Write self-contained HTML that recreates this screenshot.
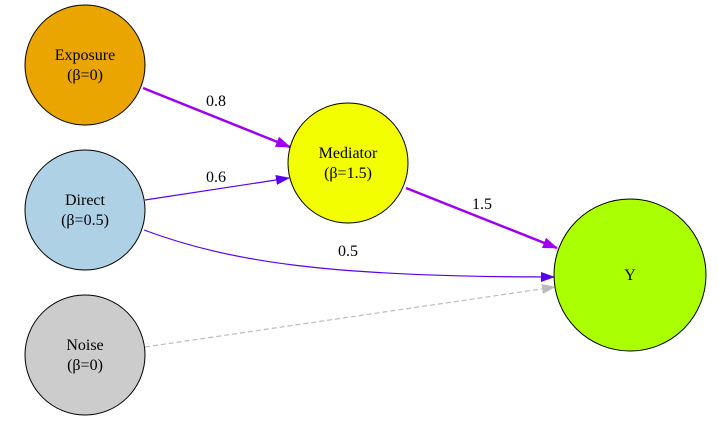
<!DOCTYPE html>
<html><head><meta charset="utf-8"><style>html,body{margin:0;padding:0;background:#fff}svg{display:block}</style></head>
<body>
<svg width="718" height="433" viewBox="0 0 718 433" xmlns="http://www.w3.org/2000/svg" font-family="Liberation Serif, serif" font-size="16">
<defs>
<marker id="ap" markerWidth="15" markerHeight="11" refX="14" refY="5.5" orient="auto" markerUnits="userSpaceOnUse"><path d="M0,0 L15,5.5 L0,11z" fill="#a000f0"/></marker>
<marker id="ab" markerWidth="14" markerHeight="10" refX="13" refY="5" orient="auto" markerUnits="userSpaceOnUse"><path d="M0,0 L14,5 L0,10z" fill="#5a00f0"/></marker>
<marker id="ag" markerWidth="14" markerHeight="10" refX="13" refY="5" orient="auto" markerUnits="userSpaceOnUse"><path d="M0,0 L14,5 L0,10z" fill="#bbb"/></marker>
</defs>
<line x1="143" y1="88" x2="290" y2="147" stroke="#a000f0" stroke-width="2.5" marker-end="url(#ap)"/>
<line x1="145" y1="200" x2="289" y2="178" stroke="#5a00f0" stroke-width="1.2" marker-end="url(#ab)"/>
<line x1="406" y1="188" x2="557" y2="248" stroke="#a000f0" stroke-width="2.5" marker-end="url(#ap)"/>
<path d="M144,230 C230,262 330,277 554,277" fill="none" stroke="#5a00f0" stroke-width="1.2" marker-end="url(#ab)"/>
<line x1="145" y1="347" x2="555" y2="287" stroke="#bbb" stroke-width="1.2" stroke-dasharray="5,3" marker-end="url(#ag)"/>
<text x="216" y="106" text-anchor="middle">0.8</text>
<text x="216" y="182" text-anchor="middle">0.6</text>
<text x="482" y="209" text-anchor="middle">1.5</text>
<text x="348" y="256" text-anchor="middle">0.5</text>
<circle cx="85" cy="65" r="60" fill="#eba500" stroke="#000"/>
<circle cx="85" cy="210" r="60" fill="#afd1e5" stroke="#000"/>
<circle cx="85" cy="355" r="60" fill="#cccccc" stroke="#000"/>
<circle cx="348" cy="163" r="60" fill="#f3ff00" stroke="#000"/>
<circle cx="630" cy="275" r="76" fill="#aaff00" stroke="#000"/>
<g text-anchor="middle">
<text x="85" y="60">Exposure</text><text x="85" y="80">(β=0)</text>
<text x="85" y="205">Direct</text><text x="85" y="225">(β=0.5)</text>
<text x="85" y="350">Noise</text><text x="85" y="370">(β=0)</text>
<text x="348" y="158">Mediator</text><text x="348" y="178">(β=1.5)</text>
<text x="630" y="280">Y</text>
</g>
</svg>
</body></html>
